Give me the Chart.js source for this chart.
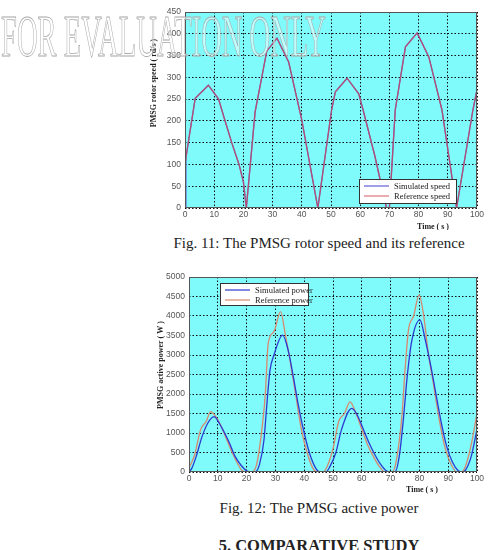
<!DOCTYPE html>
<html>
<head>
<meta charset="utf-8">
<script src="https://cdn.jsdelivr.net/npm/chart.js@4.4.0/dist/chart.umd.min.js"></script>
<style>
  body { margin: 0; width: 499px; height: 550px; overflow: hidden; position: relative; background: #fff; font-family: "Liberation Serif", serif; }
  canvas { position: absolute; left: 140px; }
  #speed-chart { top: 0; }
  #power-chart { top: 265px; }
  .cap { position: absolute; left: 319px; transform: translateX(-50%); white-space: nowrap; color: #222; font-size: 15px; line-height: 15px; }
  #wm { position: absolute; left: 1px; top: 6px; font-size: 60px; line-height: 60px; white-space: nowrap; color: rgba(255,255,255,0.5); -webkit-text-stroke: 0.9px #a8a8a8; transform-origin: 0 0; z-index: 5; }
</style>
</head>
<body>
<canvas id="speed-chart" width="350" height="230" style="width:350px;height:230px"></canvas>
<canvas id="power-chart" width="350" height="235" style="width:350px;height:235px"></canvas>
<div class="cap" style="top:236px">Fig. 11: The PMSG rotor speed and its reference</div>
<div class="cap" style="top:501px">Fig. 12: The PMSG active power</div>
<div class="cap" style="top:537px;font-weight:bold;font-size:16.5px;line-height:17px">5. COMPARATIVE STUDY</div>
<div id="wm">FOR EVALUATION ONLY</div>
<script>
// values
const xTicks = [0, 10, 20, 30, 40, 50, 60, 70, 80, 90, 100];
const speedTicks = [0, 50, 100, 150, 200, 250, 300, 350, 400, 450];
const powerTicks = [0, 500, 1000, 1500, 2000, 2500, 3000, 3500, 4000, 4500, 5000];

// Fig 11 : rotor speed (rd/s)
const speedTime = [0, 0.3, 3.5, 8, 11.5, 13.5, 16, 18.5, 20, 21, 24, 28, 31.5, 35.5, 40, 42.5, 45.5, 50.2, 51.5, 55.5, 59.5, 61, 65, 69, 70, 72, 75.5, 79.5, 83.5, 88, 93, 98.6, 100];
const speedRef  = [110, 115, 252, 282, 250, 205, 150, 100, 60, 0, 220, 360, 390, 335, 202, 110, 0, 225, 267, 298, 262, 225, 120, 0, 0, 225, 370, 402, 347, 225, 0, 225, 272];
const speedSim  = [0, 115, 252, 282, 250, 205, 150, 100, 60, 0, 220, 360, 390, 335, 202, 110, 0, 225, 267, 298, 262, 225, 120, 0, 0, 225, 370, 402, 347, 225, 0, 225, 272];

// Fig 12 : active power (W)
const powerRefTime = [0, 2, 4, 6, 7.5, 9, 11, 13, 15, 17, 18.5, 20, 22, 23.5, 25, 26.5, 27.5, 29.5, 31.8, 33.5, 35, 37, 39, 41, 43, 44.5, 46.5, 48, 50, 52, 54, 55.9, 58, 60, 62, 64, 66, 68, 70.5, 72, 74, 75, 76.2, 78, 79.9, 81.5, 83, 85, 87, 89, 91, 93, 94.5, 96, 98, 100];
const powerRef     = [100, 450, 1080, 1300, 1550, 1450, 1200, 850, 500, 200, 30, 0, 0, 200, 900, 2000, 3300, 3600, 4110, 3500, 2900, 2000, 1100, 500, 100, 0, 0, 150, 600, 1300, 1500, 1800, 1500, 1100, 700, 400, 150, 0, 0, 300, 1500, 2600, 3640, 4000, 4540, 4000, 3100, 2200, 1300, 600, 200, 0, 0, 150, 700, 1500];
const powerSimTime = [0, 1, 2.5, 4.5, 6.5, 8.7, 10.5, 12, 14, 16, 18, 20, 21.5, 23, 24.5, 26, 27, 28.1, 29.5, 32.5, 34.5, 36.2, 38, 40, 42, 44, 45.5, 47.5, 49, 51, 53, 56.5, 58.5, 60.5, 62.5, 64.5, 66.5, 68.5, 69.8, 71.5, 73, 74.5, 75.7, 77.3, 80.2, 82, 84, 85.5, 87.5, 89.5, 91.5, 93.5, 94.7, 96, 98, 100];
const powerSim     = [0, 100, 400, 900, 1250, 1420, 1250, 1050, 750, 400, 180, 30, 0, 0, 200, 800, 1700, 2600, 3000, 3510, 3100, 2450, 1700, 1000, 450, 100, 0, 0, 150, 500, 1100, 1630, 1450, 1100, 750, 450, 200, 30, 0, 0, 400, 1400, 2400, 3340, 3900, 3400, 2700, 2100, 1300, 650, 250, 30, 0, 50, 400, 1100];

const pts = (xs, ys) => xs.map((x, i) => ({ x: x, y: ys[i] }));

// MATLAB-like frame: cyan axes, black border, in-plot legend, axis titles
const decoPlugin = {
  id: "deco",
  beforeDraw(chart, args, o) {
    const a = chart.chartArea, ctx = chart.ctx;
    ctx.save();
    ctx.fillStyle = "#80fbfb";
    ctx.fillRect(a.left, a.top, a.width, a.height);
    ctx.restore();
  },
  afterDraw(chart, args, o) {
    const a = chart.chartArea, ctx = chart.ctx;
    ctx.save();
    ctx.strokeStyle = "#555";
    ctx.lineWidth = 1;
    ctx.strokeRect(a.left + 0.5, a.top + 0.5, a.width - 1, a.height - 1);

    // legend box
    const [bx, by, bw, bh] = o.box;
    ctx.fillStyle = "#fff";
    ctx.fillRect(bx, by, bw, bh);
    ctx.strokeStyle = "#333";
    ctx.strokeRect(bx + 0.5, by + 0.5, bw, bh);
    ctx.font = "8.5px 'Liberation Serif'";
    ctx.textBaseline = "middle";
    chart.data.datasets.forEach((ds, i) => {
      const yy = by + 7 + i * 10;
      ctx.strokeStyle = ds.borderColor;
      ctx.lineWidth = 1.2;
      ctx.beginPath();
      ctx.moveTo(bx + 5, yy);
      ctx.lineTo(bx + 30, yy);
      ctx.stroke();
      ctx.fillStyle = "#222";
      ctx.fillText(ds.label, bx + 35, yy + 0.5);
    });

    // axis titles
    ctx.fillStyle = "#222";
    ctx.font = "bold 8px 'Liberation Serif'";
    ctx.textAlign = "center";
    ctx.fillText("Time ( s )", o.xTitle[0], o.xTitle[1]);
    ctx.translate(o.yTitle[0], o.yTitle[1]);
    ctx.rotate(-Math.PI / 2);
    ctx.fillText(o.yTitle[2], 0, 0);
    ctx.restore();
  }
};

function makeOptions(yTicks, yWidth, xHeight, deco) {
  const tickFont = { family: "'Liberation Sans'", size: 8.5 };
  return {
    animation: false,
    responsive: false,
    layout: { padding: { top: 12, right: 13, left: 0, bottom: 0 } },
    elements: { point: { radius: 0 }, line: { borderWidth: 1.3 } },
    plugins: { legend: { display: false }, tooltip: { enabled: false }, deco: deco },
    scales: {
      x: {
        type: "linear", min: xTicks[0], max: xTicks[xTicks.length - 1],
        afterBuildTicks: s => { s.ticks = xTicks.map(v => ({ value: v })); },
        afterFit: s => { s.height = xHeight; },
        ticks: { color: "#555", font: tickFont, padding: 2, maxRotation: 0, callback: v => String(v) },
        grid: { color: "#111", drawTicks: false },
        border: { display: false, dash: [1.5, 2] }
      },
      y: {
        min: yTicks[0], max: yTicks[yTicks.length - 1],
        afterBuildTicks: s => { s.ticks = yTicks.map(v => ({ value: v })); },
        afterFit: s => { s.width = yWidth; },
        ticks: { color: "#555", font: tickFont, padding: 4, callback: v => String(v) },
        grid: { color: "#111", drawTicks: false },
        border: { display: false, dash: [1.5, 2] }
      }
    }
  };
}

new Chart(document.getElementById("speed-chart").getContext("2d"), {
  type: "line",
  data: {
    datasets: [
      { label: "Simulated speed", data: pts(speedTime, speedSim), borderColor: "#6060d8", tension: 0, order: 1 },
      { label: "Reference speed", data: pts(speedTime, speedRef), borderColor: "rgba(205,70,80,0.75)", tension: 0, order: 0 }
    ]
  },
  options: makeOptions(speedTicks, 45, 22, {
    box: [219, 179, 97, 24], xTitle: [293, 227], yTitle: [14, 83, "PMSG rotor speed ( rd/s )"]
  }),
  plugins: [decoPlugin]
});

new Chart(document.getElementById("power-chart").getContext("2d"), {
  type: "line",
  data: {
    datasets: [
      { label: "Simulated power", data: pts(powerSimTime, powerSim), borderColor: "#2a3ad0", cubicInterpolationMode: "monotone" },
      { label: "Reference power", data: pts(powerRefTime, powerRef), borderColor: "#d8886e", cubicInterpolationMode: "monotone" }
    ]
  },
  options: makeOptions(powerTicks, 49, 28, {
    box: [80, 18, 88, 22], xTitle: [282, 225], yTitle: [21, 100, "PMSG active power ( W )"]
  }),
  plugins: [decoPlugin]
});

// squeeze the watermark to its width in the scan
const wm = document.getElementById("wm");
wm.style.transform = "scale(" + (325 / wm.getBoundingClientRect().width) + ",1)";
</script>
</body>
</html>
